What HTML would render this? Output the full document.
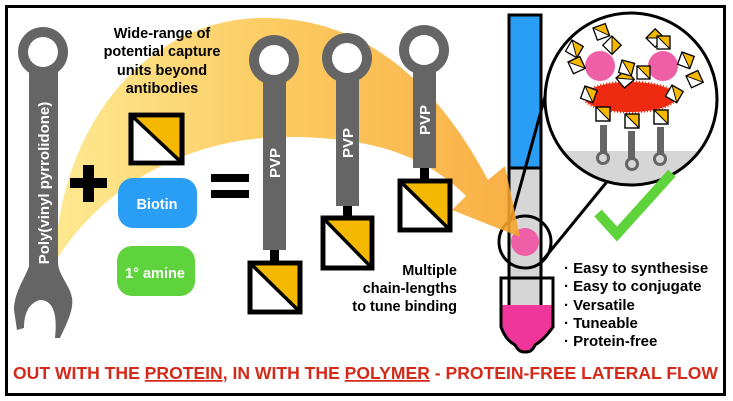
<!DOCTYPE html>
<html><head><meta charset="utf-8"><style>
html,body{margin:0;padding:0;background:#fff}
svg{display:block}
text{font-family:"Liberation Sans",Arial,sans-serif;font-weight:bold}
</style></head><body>
<svg width="733" height="401" viewBox="0 0 733 401" xmlns="http://www.w3.org/2000/svg">
<defs>
<linearGradient id="g" x1="0" y1="0" x2="1" y2="0">
<stop offset="0" stop-color="#fde682"/><stop offset="0.5" stop-color="#fbc24a"/><stop offset="1" stop-color="#f8a42c"/>
</linearGradient>
<g id="sq"><rect x="0" y="0" width="10" height="10" fill="#fff"/><path d="M0 0 L10 0 L10 10 Z" fill="#f5b800"/><path d="M0 0 L10 10" stroke="#000" stroke-width="0.7"/><rect x="0" y="0" width="10" height="10" fill="none" stroke="#000" stroke-width="1"/></g>
</defs>
<rect x="0" y="0" width="733" height="401" fill="#fff"/>
<rect x="6.5" y="6.5" width="718" height="388" fill="none" stroke="#000" stroke-width="3"/>
<!-- strip -->
<rect x="509" y="15" width="32" height="153" fill="#2a9df4" stroke="#000" stroke-width="3"/>
<rect x="509" y="168" width="32" height="140" fill="#d6d6d6" stroke="#000" stroke-width="3"/>
<path d="M501 305 L553 305 L553 327 C545 338 540 342 535 345 C532 352 528 352 525 352 C520 352 518 350 515 345 C510 342 505 338 501 327 Z" fill="#f0369a"/>
<path d="M501 278 L553 278 L553 327 C545 338 540 342 535 345 C532 352 528 352 525 352 C520 352 518 350 515 345 C510 342 505 338 501 327 Z" fill="none" stroke="#000" stroke-width="3"/>
<line x1="509" y1="278" x2="509" y2="305" stroke="#000" stroke-width="3"/><line x1="541" y1="278" x2="541" y2="305" stroke="#000" stroke-width="3"/>
<circle cx="525" cy="242" r="14" fill="#ee5fa8"/>
<circle cx="525" cy="242" r="26" fill="none" stroke="#000" stroke-width="3"/>
<line x1="511" y1="220" x2="546" y2="93" stroke="#000" stroke-width="3"/>
<line x1="543" y1="260" x2="610" y2="178" stroke="#000" stroke-width="3"/>
<!-- big arrow -->
<path d="M55 262 C60 120 150 20 260 18 C370 16 440 90 488 180 L505 166 L520 237 L452 210 L466 196 C420 150 360 136 280 137 C180 140 100 190 55 262 Z" fill="url(#g)" opacity="0.88"/>
<!-- left wrench -->
<g fill="#656565">
<circle cx="43" cy="52" r="25"/>
<rect x="29" y="60" width="29" height="205"/>
<path d="M30 262 C28 275 14 290 14 310 L17 330 L24 328 C24 315 28 303 40 300 C52 300 58 312 55 338 L60 338 C66 325 74 310 72 298 C70 285 58 275 58 262 Z"/>
</g>
<circle cx="43" cy="52" r="15" fill="#fff"/>
<text transform="translate(49,183) rotate(-90)" font-size="15" fill="#fff" text-anchor="middle">Poly(vinyl pyrrolidone)</text>
<!-- text -->
<g font-size="14.5" fill="#000" text-anchor="middle">
<text x="162" y="38">Wide-range of</text>
<text x="162" y="56">potential capture</text>
<text x="162" y="75">units beyond</text>
<text x="162" y="93">antibodies</text>
</g>
<g font-size="14.5" fill="#000" text-anchor="end">
<text x="457" y="275">Multiple</text>
<text x="457" y="293">chain-lengths</text>
<text x="457" y="311">to tune binding</text>
</g>
<!-- standalone square -->
<use href="#sq" transform="translate(131,115) scale(5.1,4.8)"/>
<!-- plus equals -->
<rect x="70" y="178" width="37" height="10" fill="#000"/><rect x="83" y="165" width="11" height="37" fill="#000"/>
<rect x="211" y="174" width="38" height="8" fill="#000"/><rect x="211" y="190" width="38" height="8" fill="#000"/>
<rect x="118" y="178" width="79" height="50" rx="15" fill="#2a9df4"/>
<text x="157" y="209" font-size="14.5" fill="#fff" text-anchor="middle">Biotin</text>
<rect x="117" y="246" width="78" height="50" rx="15" fill="#5fd33c"/>
<text x="155" y="278" font-size="14.5" fill="#fff" text-anchor="middle">1° amine</text>
<!-- PVP wrenches -->
<g fill="#656565">
<circle cx="274" cy="60" r="25"/><rect x="263" y="70" width="23" height="180"/>
<circle cx="347" cy="58" r="25"/><rect x="336" y="66" width="23" height="140"/>
<circle cx="424" cy="50" r="25"/><rect x="413" y="58" width="23" height="110"/>
</g>
<circle cx="274" cy="60" r="15" fill="#fff"/><circle cx="347" cy="58" r="15" fill="#fff"/><circle cx="424" cy="50" r="15" fill="#fff"/>
<rect x="270" y="250" width="9" height="12" fill="#000"/><rect x="343" y="206" width="9" height="12" fill="#000"/><rect x="420" y="168" width="9" height="12" fill="#000"/>
<use href="#sq" transform="translate(250,263) scale(5,4.9)"/>
<use href="#sq" transform="translate(323,218) scale(4.9,5)"/>
<use href="#sq" transform="translate(400,181) scale(5,4.9)"/>
<g font-size="15" fill="#fff" text-anchor="middle">
<text transform="translate(280,163) rotate(-90)">PVP</text>
<text transform="translate(353,143) rotate(-90)">PVP</text>
<text transform="translate(430,120) rotate(-90)">PVP</text>
</g>
<!-- big circle -->
<clipPath id="cc"><circle cx="631" cy="99" r="86"/></clipPath>
<circle cx="631" cy="99" r="86" fill="#fff"/>
<rect x="540" y="151" width="200" height="40" fill="#d6d6d6" clip-path="url(#cc)"/>
<circle cx="631" cy="99" r="86" fill="none" stroke="#000" stroke-width="3"/>
<g fill="#656565">
<rect x="600" y="125" width="7" height="30"/><circle cx="603" cy="158" r="7"/>
<rect x="628" y="131" width="7" height="30"/><circle cx="632" cy="164" r="7"/>
<rect x="657" y="127" width="7" height="30"/><circle cx="660" cy="159" r="7"/>
</g>
<circle cx="603" cy="158" r="4" fill="#d6d6d6"/><circle cx="632" cy="164" r="4" fill="#d6d6d6"/><circle cx="660" cy="159" r="4" fill="#d6d6d6"/>
<ellipse cx="630" cy="97" rx="46" ry="15" fill="#ee2a10" stroke="#ee2a10" stroke-width="3" stroke-dasharray="1 2"/>
<circle cx="600" cy="66" r="15" fill="#ee5fa8"/><circle cx="663" cy="66" r="15" fill="#ee5fa8"/>
<use href="#sq" transform="translate(596,107) scale(1.4)"/>
<use href="#sq" transform="translate(625,114) scale(1.4)"/>
<use href="#sq" transform="translate(654,110) scale(1.4)"/>
<use href="#sq" transform="translate(572,40) rotate(30) scale(1.3)"/>
<use href="#sq" transform="translate(593,28) rotate(-20) scale(1.3)"/>
<use href="#sq" transform="translate(612,36) rotate(45) scale(1.3)"/>
<use href="#sq" transform="translate(568,62) rotate(-25) scale(1.3)"/>
<use href="#sq" transform="translate(585,86) rotate(20) scale(1.3)"/>
<use href="#sq" transform="translate(616,78) rotate(-40) scale(1.3)"/>
<use href="#sq" transform="translate(622,60) rotate(15) scale(1.3)"/>
<use href="#sq" transform="translate(637,66) rotate(0) scale(1.3)"/>
<use href="#sq" transform="translate(646,38) rotate(-45) scale(1.3)"/>
<use href="#sq" transform="translate(657,36) rotate(0) scale(1.3)"/>
<use href="#sq" transform="translate(682,52) rotate(20) scale(1.3)"/>
<use href="#sq" transform="translate(686,76) rotate(-25) scale(1.3)"/>
<use href="#sq" transform="translate(672,85) rotate(30) scale(1.3)"/>
<!-- check -->
<path d="M598 213 L617 234 L672 173" fill="none" stroke="#5fd33c" stroke-width="10"/>
<!-- bullets -->
<g font-size="15" fill="#000">
<text x="564" y="273">· Easy to synthesise</text>
<text x="564" y="291">· Easy to conjugate</text>
<text x="564" y="310">· Versatile</text>
<text x="564" y="328">· Tuneable</text>
<text x="564" y="346">· Protein-free</text>
</g>
<!-- title -->
<text x="13" y="379" font-size="17.5" fill="#d42a1a" textLength="705" lengthAdjust="spacingAndGlyphs">OUT WITH THE <tspan text-decoration="underline">PROTEIN,</tspan> IN WITH THE <tspan text-decoration="underline">POLYMER</tspan> - PROTEIN-FREE LATERAL FLOW</text>
</svg>
</body></html>
